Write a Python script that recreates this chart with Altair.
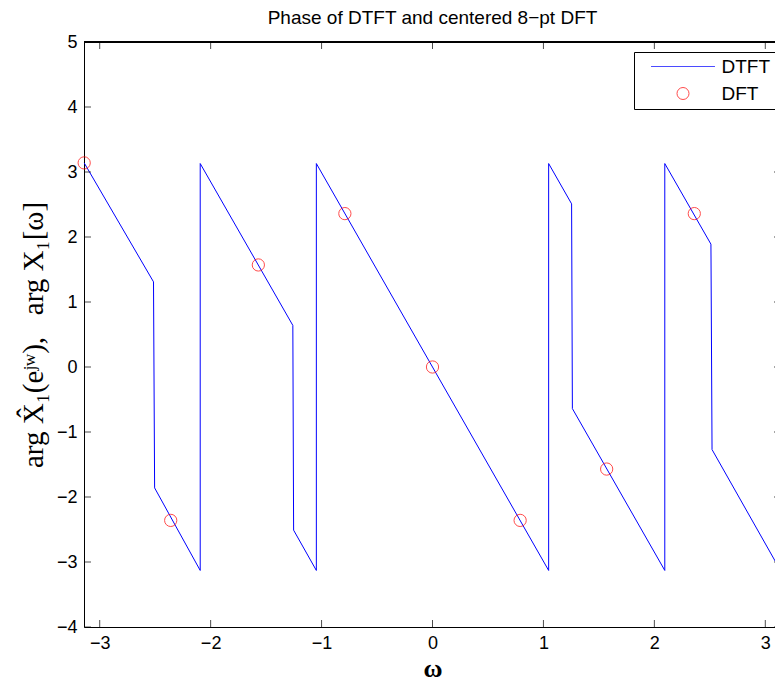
import math
import altair as alt
import pandas as pd

PI = math.pi

# DTFT phase polyline (vertices)
dtft_omega = [-3.14, -2.515, -2.505, -2.094, -2.094, -1.259, -1.252, -1.047, -1.047,
              1.047, 1.047, 1.254, 1.261, 2.094, 2.094, 2.51, 2.52, 3.14]
dtft_phase = [3.14, 1.31, -1.86, -3.13, 3.13, 0.64, -2.51, -3.13, 3.13,
              -3.13, 3.13, 2.51, -0.64, -3.13, 3.13, 1.89, -1.27, -3.14]

# Centered 8-pt DFT samples
dft_omega = [-3.14, -2.36, -1.57, -0.79, 0.0, 0.79, 1.57, 2.36]
dft_phase = [3.14, -2.36, 1.57, 2.36, 0.0, -2.36, -1.57, 2.36]

x_ticks = [-3, -2, -1, 0, 1, 2, 3]
y_ticks = [-4, -3, -2, -1, 0, 1, 2, 3, 4, 5]

series_names = ["DTFT", "DFT"]
series_colors = ["#0000ff", "#ff0000"]

dtft_df = pd.DataFrame({"omega": dtft_omega, "phase": dtft_phase,
                        "idx": list(range(len(dtft_omega))), "series": "DTFT"})
dft_df = pd.DataFrame({"omega": dft_omega, "phase": dft_phase, "series": "DFT"})
xt_df = pd.DataFrame({"t": x_ticks})
yt_df = pd.DataFrame({"t": y_ticks})

FONT = "Liberation Sans"
SERIF = "Liberation Serif"
NB = "\u00a0"
Y_TITLE = f"arg{NB}X̂₁(eʲʷ),{NB}{NB}{NB}arg{NB}X₁[ω]"

xscale = alt.Scale(domain=[-PI, PI], range=[0, 697], nice=False, zero=False)
yscale = alt.Scale(domain=[-4, 5], nice=False, zero=False)

color_scale = alt.Scale(domain=series_names, range=series_colors)
shape_scale = alt.Scale(domain=series_names, range=["M-5.33,0H5.33", "circle"])

legend = alt.Legend(title=None, orient="none", legendX=550, legendY=10,
                    strokeColor="black", fillColor="white", padding=5,
                    cornerRadius=0, labelFont=FONT, labelFontSize=19,
                    labelColor="black", symbolSize=144, symbolStrokeWidth=1,
                    symbolOffset=34.5, labelOffset=29, rowPadding=7,
                    symbolFillColor="transparent")

line = alt.Chart(dtft_df).mark_line(strokeWidth=1).encode(
    x=alt.X("omega:Q", scale=xscale,
            axis=alt.Axis(values=x_ticks, format="d", title="ω", tickSize=0,
                          labelPadding=7, labelFont=FONT, labelFontSize=18,
                          labelColor="black", domainColor="black", domainWidth=1,
                          grid=False, titleFont=SERIF, titleFontSize=26,
                          titleFontWeight="bold", titleColor="black", titlePadding=3)),
    y=alt.Y("phase:Q", scale=yscale,
            axis=alt.Axis(values=y_ticks, format="d", title=Y_TITLE,
                          tickSize=0, labelPadding=7, labelFont=FONT,
                          labelFontSize=18, labelColor="black",
                          domainColor="black", domainWidth=1, grid=False,
                          titleFont=SERIF, titleFontSize=29, titleFontWeight="normal",
                          titleColor="black", titlePadding=8)),
    color=alt.Color("series:N", scale=color_scale, legend=legend),
    order="idx:Q",
)

points = alt.Chart(dft_df).mark_point(filled=False, size=150, strokeWidth=1).encode(
    x="omega:Q",
    y="phase:Q",
    color=alt.Color("series:N", scale=color_scale, legend=legend),
    shape=alt.Shape("series:N", scale=shape_scale, legend=legend),
)

tick_style = dict(color="black", thickness=1, size=7)
bottom_ticks = alt.Chart(xt_df).mark_tick(orient="vertical", yOffset=-3.5, **tick_style).encode(
    x="t:Q", y=alt.datum(-4))
top_ticks = alt.Chart(xt_df).mark_tick(orient="vertical", yOffset=3.5, **tick_style).encode(
    x="t:Q", y=alt.datum(5))
left_ticks = alt.Chart(yt_df).mark_tick(orient="horizontal", xOffset=3.5, **tick_style).encode(
    y="t:Q", x=alt.datum(-PI))
right_ticks = alt.Chart(yt_df).mark_tick(orient="horizontal", xOffset=-3.5, **tick_style).encode(
    y="t:Q", x=alt.datum(PI))

top_frame = alt.Chart(xt_df).mark_rule(color="black", strokeWidth=1).encode(
    x=alt.datum(-PI), x2=alt.datum(PI), y=alt.datum(5))
right_frame = alt.Chart(xt_df).mark_rule(color="black", strokeWidth=1).encode(
    x=alt.datum(PI), y=alt.datum(-4), y2=alt.datum(5))

chart = alt.layer(
    line, points, bottom_ticks, top_ticks, left_ticks, right_ticks, top_frame, right_frame
).properties(
    width=691, height=585,
    title=alt.TitleParams("Phase of DTFT and centered 8−pt DFT", font=FONT,
                          fontSize=19, fontWeight="normal", color="black",
                          offset=5, dx=3),
    autosize=alt.AutoSizeParams(type="none"),
    padding={"left": 84, "top": 42, "right": 0, "bottom": 61},
).resolve_scale(color="shared", shape="shared").configure_view(stroke=None).configure(
    background="white")

chart.save("out.html", embed_options={"renderer": "svg", "actions": False})
